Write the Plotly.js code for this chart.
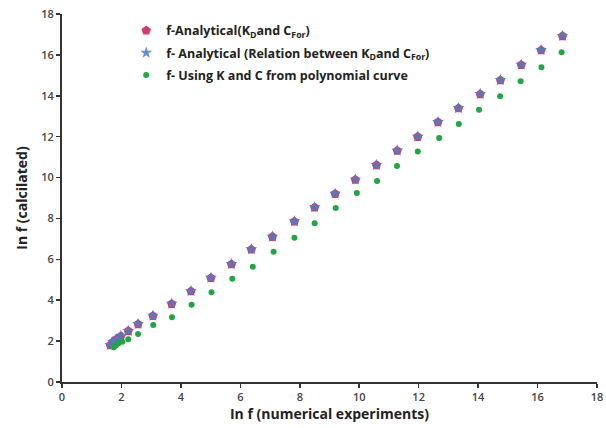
<!DOCTYPE html>
<html>
<head>
<meta charset="utf-8">
<script src="https://cdn.plot.ly/plotly-3.0.1.min.js"></script>
<style>html,body{margin:0;padding:0;background:#fff;}#chart{width:606px;height:428px;}</style>
</head>
<body>
<div id="chart"></div>
<script>
// ln f from numerical experiments (x) and calculated values (y)
const xAnalytical = [1.62, 1.71, 1.83, 1.98, 2.23, 2.56, 3.06, 3.69, 4.34, 5.01, 5.70, 6.37, 7.08, 7.82, 8.50, 9.19, 9.87, 10.58, 11.28, 11.97, 12.65, 13.34, 14.07, 14.75, 15.45, 16.12, 16.84];
const yAnalyticalKD = [1.80, 1.95, 2.09, 2.24, 2.49, 2.83, 3.23, 3.82, 4.44, 5.09, 5.76, 6.48, 7.10, 7.85, 8.54, 9.20, 9.89, 10.61, 11.31, 11.99, 12.71, 13.39, 14.08, 14.76, 15.51, 16.23, 16.92];
const yAnalyticalRel = [1.81, 1.97, 2.10, 2.25, 2.50, 2.84, 3.24, 3.83, 4.45, 5.10, 5.77, 6.49, 7.11, 7.86, 8.55, 9.21, 9.90, 10.62, 11.32, 12.00, 12.72, 13.40, 14.09, 14.77, 15.52, 16.24, 16.93];
const xPoly = [1.74, 1.81, 1.90, 2.03, 2.23, 2.56, 3.07, 3.70, 4.36, 5.03, 5.73, 6.42, 7.12, 7.82, 8.50, 9.21, 9.92, 10.60, 11.27, 11.97, 12.69, 13.35, 14.03, 14.74, 15.43, 16.13, 16.81];
const yPoly = [1.70, 1.78, 1.89, 1.97, 2.09, 2.35, 2.79, 3.17, 3.78, 4.39, 5.05, 5.64, 6.37, 7.06, 7.76, 8.51, 9.25, 9.83, 10.57, 11.27, 11.94, 12.62, 13.32, 13.98, 14.71, 15.40, 16.13];
const seriesNames = [
  'f-Analytical(K<sub>D</sub>and C<sub>For</sub>)',
  'f- Analytical (Relation between K<sub>D</sub>and C<sub>For</sub>)',
  'f- Using K and C from polynomial curve'
];
const tickVals = [0, 2, 4, 6, 8, 10, 12, 14, 16, 18];

const traces = [
  {x: xAnalytical, y: yAnalyticalKD, name: seriesNames[0], legendgroup: 'g1', mode: 'markers', type: 'scatter',
   marker: {symbol: 'pentagon', size: 10, color: '#cf3f68'}},
  {x: xAnalytical, y: yAnalyticalRel, name: seriesNames[1], legendgroup: 'g2', mode: 'markers', type: 'scatter',
   marker: {symbol: 'star', size: 9, color: '#4f7cc4', opacity: 0.85}},
  {x: xPoly, y: yPoly, name: seriesNames[2], legendgroup: 'g3', mode: 'markers', type: 'scatter',
   marker: {symbol: 'circle', size: 6, color: '#22a544'}}
];

const axisCommon = {
  range: [0, 18], tickvals: tickVals, ticks: 'outside', ticklen: 4, tickwidth: 1.5, tickcolor: '#333',
  showline: true, linecolor: '#333', linewidth: 2, showgrid: false, zeroline: false,
  tickfont: {family: 'Open Sans', size: 11, color: '#444', weight: 600}
};

const layout = {
  width: 606, height: 428,
  margin: {l: 62, r: 9, t: 14, b: 46},
  paper_bgcolor: '#fff', plot_bgcolor: '#fff',
  showlegend: true,
  legend: {x: 0.12, y: 0.995, xanchor: 'left', yanchor: 'top', bgcolor: 'rgba(0,0,0,0)',
           traceorder: 'grouped', tracegroupgap: 3,
           font: {family: 'Open Sans', size: 12.5, color: '#222', weight: 700}},
  xaxis: Object.assign({}, axisCommon, {title: {text: 'In f (numerical experiments)', standoff: 6,
          font: {family: 'Open Sans', size: 14, color: '#222', weight: 700}}}),
  yaxis: Object.assign({}, axisCommon, {title: {text: 'In f (calcilated)', standoff: 10,
          font: {family: 'Open Sans', size: 14, color: '#222', weight: 700}}})
};

Plotly.newPlot('chart', traces, layout, {displayModeBar: false, staticPlot: true});
</script>
</body>
</html>
